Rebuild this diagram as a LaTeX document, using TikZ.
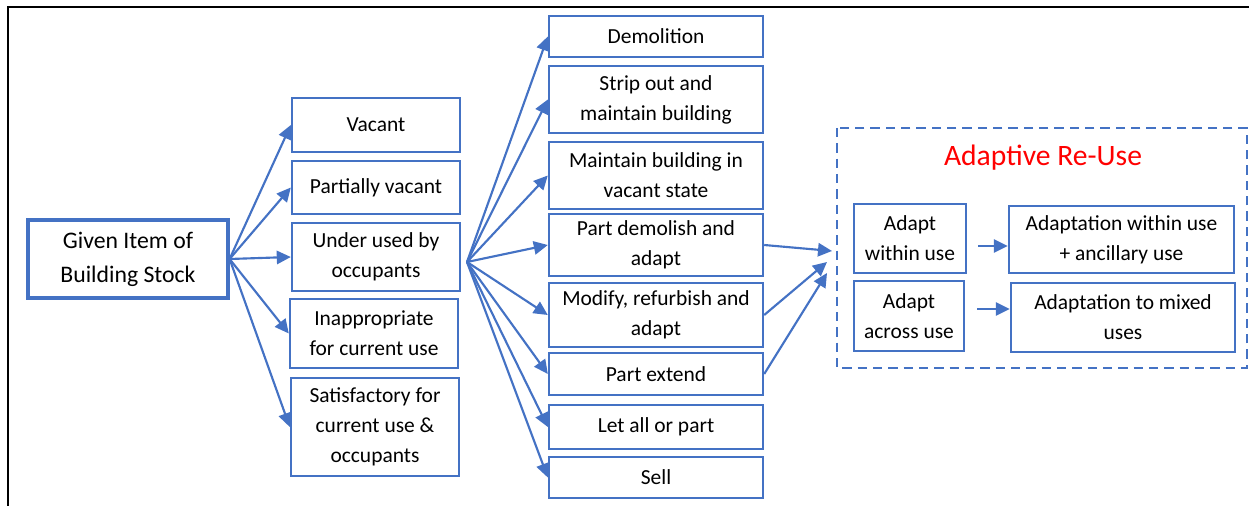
\documentclass[tikz,border=0pt]{standalone}
\usepackage{fontspec}
\setmainfont{Carlito}
\usetikzlibrary{arrows.meta}
\definecolor{ofblue}{HTML}{4472C4}

\tikzset{
    box/.style={draw=ofblue, line width=1.8pt, inner sep=1pt, align=center,
        font=\fontsize{16.1}{22.5}\selectfont},
    arr/.style={draw=ofblue, line width=1.6pt, -{Triangle[length=10.5pt,width=10pt]}}
}

\begin{document}
\begin{tikzpicture}[x=0.75pt,y=-0.75pt]
    \useasboundingbox (0,0) rectangle (1249,506);
    \draw[black, line width=1.6pt] (8,506) -- (8,7) -- (1249,7); % outer frame, cut at the page

    % source
    \node[box, line width=2.4pt, minimum width=150pt, minimum height=58.5pt,
        font=\fontsize{17.8}{25.5}\selectfont] (given) at (128,259) {Given Item of\\Building Stock};

    % state of the building
    \node[box, minimum width=126pt, minimum height=40.5pt] (vacant) at (376,125) {Vacant};
    \node[box, minimum width=126pt, minimum height=39.75pt] (partial) at (376,187.5) {Partially vacant};
    \node[box, minimum width=126pt, minimum height=51pt] (under) at (376,257) {Under used by\\occupants};
    \node[box, minimum width=126pt, minimum height=51.75pt] (inapp) at (374,333.5) {Inappropriate\\for current use};
    \node[box, minimum width=126pt, minimum height=73.5pt] (satis) at (375,427) {Satisfactory for\\current use \&\\occupants};

    % options
    \node[box, minimum width=160.5pt, minimum height=30.75pt] (demol) at (656,36.5) {Demolition};
    \node[box, minimum width=160.5pt, minimum height=50.25pt] (strip) at (656,99.5) {Strip out and\\maintain building};
    \node[box, minimum width=160.5pt, minimum height=50.25pt] (maint) at (656,175.5) {Maintain building in\\vacant state};
    \node[box, minimum width=160.5pt, minimum height=46.5pt] (partdem) at (656,245) {Part demolish and\\adapt};
    \node[box, minimum width=160.5pt, minimum height=48pt] (modify) at (656,315) {Modify, refurbish and\\adapt};
    \node[box, minimum width=160.5pt, minimum height=31.5pt] (extend) at (656,374) {Part extend};
    \node[box, minimum width=160.5pt, minimum height=33pt] (letall) at (656,427) {Let all or part};
    \node[box, minimum width=160.5pt, minimum height=30.75pt] (sell) at (656,477.5) {Sell};

    % adaptive re-use group
    \draw[ofblue, line width=1.5pt, dash pattern=on 7pt off 4.5pt] (837,128) rectangle (1247,368);
    \node[text=red, font=\fontsize{22.2}{26}\selectfont] (title) at (1043,158) {Adaptive Re-Use};
    \node[box, minimum width=84pt, minimum height=51.75pt] (within) at (910,238.5) {Adapt\\within use};
    \node[box, minimum width=82.5pt, minimum height=52.5pt] (across) at (909,316) {Adapt\\across use};
    \node[box, minimum width=168.75pt, minimum height=50.25pt] (adwithin) at (1121.5,239.5) {Adaptation within use\\+ ancillary use};
    \node[box, minimum width=168pt, minimum height=51.75pt] (admixed) at (1123,317.5) {Adaptation to mixed\\uses};

    \coordinate (fan) at (467,262);
    \coordinate (in1) at (832,251);
    \coordinate (in2) at (827,262);
    \coordinate (in3) at (827,273);
    \coordinate (s1) at (978,246);
    \coordinate (s2) at (977,309);

    \foreach \n in {vacant,partial,under,inapp,satis}{
        \draw[arr] (given.east) -- (\n.west);
    }
    \foreach \n in {demol,strip,maint,partdem,modify,extend,letall,sell}{
        \draw[arr] (fan) -- (\n.west);
    }
    \draw[arr] (partdem.east) -- (in1);
    \draw[arr] (modify.east) -- (in2);
    \draw[arr] (extend.east) -- (in3);
    \draw[arr] (s1) -- (adwithin.west |- s1);
    \draw[arr] (s2) -- (admixed.west |- s2);
\end{tikzpicture}
\end{document}
